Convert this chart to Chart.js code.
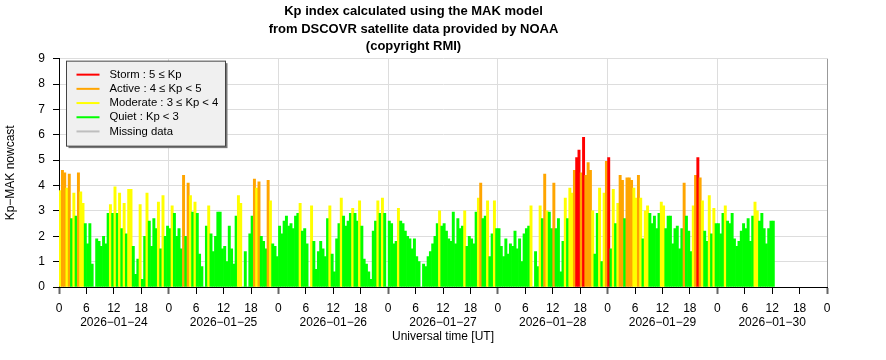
<!DOCTYPE html>
<html>
<head>
<meta charset="utf-8">
<title>Kp index - MAK model</title>
<script src="https://cdn.jsdelivr.net/npm/chart.js@4/dist/chart.umd.min.js"></script>
<style>
  html, body { margin: 0; padding: 0; background: #fff; }
  #wrap { width: 886px; height: 360px; }
</style>
</head>
<body>
<div id="wrap"><canvas id="kp-chart"></canvas></div>
<script>
// dates under the noon tick of every day
const dayLabels = ['2026−01−24', '2026−01−25', '2026−01−26', '2026−01−27',
                   '2026−01−28', '2026−01−29', '2026−01−30'];

// Kp-MAK nowcast, one value every 30 minutes
const kpJan24 = [3.8, 4.6, 4.5, 3.9, 4.45, 2.7, 3.7, 2.8, 4.5, 3.75, 3.3, 2.5, 1.7, 2.5, 0.9, 0,
                 1.9, 1.8, 1.6, 2.0, 1.7, 2.9, 3.25, 2.9, 3.95, 2.9, 3.7, 2.3, 3.3, 2.1, 3.85, 3.85,
                 1.6, 0.5, 1.1, 3.25, 0.3, 2.0, 3.7, 2.6, 1.6, 2.7, 2.3, 3.35, 1.5, 3.6, 2.0, 2.4];
const kpJan25 = [2.3, 3.2, 2.9, 2.0, 2.3, 1.5, 4.4, 2.0, 4.1, 3.6, 2.95, 3.35, 2.9, 1.3, 0.8, 0,
                 2.4, 3.2, 2.1, 1.4, 2.0, 2.95, 2.95, 1.5, 1.6, 1.0, 2.4, 1.5, 0.9, 2.8, 3.6, 3.3,
                 0, 1.4, 0, 2.1, 2.8, 4.25, 3.9, 4.15, 2.0, 1.8, 1.5, 4.2, 3.4, 1.7, 1.6, 1.2];
const kpJan26 = [2.4, 2.1, 2.6, 2.8, 2.4, 2.5, 2.3, 2.8, 2.9, 3.3, 2.2, 2.3, 1.7, 0, 3.2, 1.8,
                 0.7, 1.4, 1.8, 1.5, 1.2, 2.7, 3.2, 1.3, 0.6, 1.9, 2.5, 3.5, 2.8, 2.4, 2.6, 2.9,
                 3.1, 2.9, 2.6, 3.4, 2.4, 1.1, 0.9, 0.6, 0.3, 2.2, 2.6, 3.4, 2.9, 3.5, 2.9, 0];
const kpJan27 = [2.6, 2.5, 1.7, 1.8, 3.1, 2.6, 2.5, 2.2, 2.0, 1.9, 1.5, 1.9, 1.2, 1.0, 0, 0.9,
                 0.8, 1.2, 1.4, 1.7, 2.0, 2.5, 3.0, 2.4, 2.5, 2.2, 1.9, 1.8, 2.95, 1.7, 2.7, 2.3,
                 2.4, 3.0, 1.6, 2.0, 1.9, 1.7, 2.95, 3.5, 4.1, 2.7, 2.8, 3.4, 1.2, 2.1, 3.4, 2.3];
const kpJan28 = [2.3, 1.6, 1.2, 1.9, 1.3, 1.7, 1.6, 2.2, 1.5, 1.9, 1.0, 2.1, 2.3, 2.4, 3.2, 0,
                 1.4, 0.8, 3.2, 2.7, 4.45, 3.0, 2.95, 2.3, 4.1, 2.3, 2.7, 0.6, 1.8, 3.5, 2.7, 3.9,
                 3.7, 4.6, 5.1, 5.4, 4.5, 5.9, 4.4, 4.9, 4.6, 3.0, 1.3, 2.9, 3.9, 1.0, 3.7, 4.95];
const kpJan29 = [5.1, 1.5, 3.85, 2.5, 3.3, 4.4, 4.2, 2.7, 4.3, 4.3, 4.2, 3.9, 3.5, 4.4, 3.5, 1.9,
                 3.0, 3.2, 2.9, 2.5, 2.8, 2.3, 2.9, 3.35, 3.2, 2.3, 2.8, 2.8, 1.7, 2.3, 2.4, 1.5,
                 2.3, 4.1, 2.8, 2.2, 1.4, 3.2, 4.4, 5.1, 4.3, 3.4, 2.2, 1.8, 3.6, 2.1, 3.1, 2.5];
const kpJan30 = [2.5, 2.1, 2.9, 3.2, 2.6, 2.5, 2.9, 1.9, 1.6, 1.8, 2.2, 2.5, 2.3, 2.7, 1.8, 2.8,
                 3.35, 3.0, 2.6, 2.9, 2.3, 1.7, 2.3, 2.6, 2.6];

const stepHours = 0.5;
const yTicks = [0, 1, 2, 3, 4, 5, 6, 7, 8, 9];

const stormColor = '#ff0000';
const activeColor = '#ffa500';
const moderateColor = '#ffff00';
const quietColor = '#00ff00';
const missingColor = '#bebebe';

const kpValues = [].concat(kpJan24, kpJan25, kpJan26, kpJan27, kpJan28, kpJan29, kpJan30);
// x = hours since 2026-01-24 00:00 UT, bar centred in its half-hour slot
const kpPoints = kpValues.map((v, i) => ({ x: i * stepHours + stepHours / 2, y: v }));

function kpColor(v) {
    if (v >= 5) return stormColor;
    if (v >= 4) return activeColor;
    if (v >= 3) return moderateColor;
    return quietColor;
}

const legendItems = [
    ['Storm : 5 ≤ Kp', stormColor],
    ['Active : 4 ≤ Kp < 5', activeColor],
    ['Moderate : 3 ≤ Kp < 4', moderateColor],
    ['Quiet : Kp < 3', quietColor],
    ['Missing data', missingColor],
];

// legend box drawn inside the plot, top left
const legendBox = {
    id: 'legendBox',
    afterDraw(chart) {
        const c = chart.ctx;
        const left = chart.chartArea.left + 7.5;
        const top = chart.chartArea.top + 2.5;
        c.save();
        c.fillStyle = '#777';
        c.fillRect(left + 2, top + 2, 159, 85);
        c.fillStyle = '#f0f0f0';
        c.fillRect(left, top, 159, 85);
        c.strokeStyle = '#444';
        c.lineWidth = 1;
        c.strokeRect(left, top, 159, 85);
        c.font = '11.3px "Liberation Sans", Arial, sans-serif';
        c.textBaseline = 'middle';
        c.fillStyle = '#000';
        legendItems.forEach((item, i) => {
            const y = top + 13.5 + i * 14.2;
            c.strokeStyle = item[1];
            c.lineWidth = 2;
            c.beginPath();
            c.moveTo(left + 10, y);
            c.lineTo(left + 33, y);
            c.stroke();
            c.fillText(item[0], left + 43, y);
        });
        c.restore();
    }
};

Chart.defaults.font.family = '"Liberation Sans", Arial, sans-serif';
Chart.defaults.color = '#000';

const ctx = document.getElementById('kp-chart').getContext('2d');
new Chart(ctx, {
    type: 'bar',
    data: {
        datasets: [{
            label: 'Kp-MAK',
            data: kpPoints,
            backgroundColor: (c) => kpColor(c.raw ? c.raw.y : 0),
            borderWidth: 0,
            barPercentage: 1,
            categoryPercentage: 1,
        }],
    },
    options: {
        responsive: true,
        maintainAspectRatio: false,
        animation: false,
        devicePixelRatio: 1,
        layout: { padding: { left: 0, right: 59, top: 0, bottom: 0 } },
        plugins: {
            legend: { display: false },
            tooltip: { enabled: false },
            title: {
                display: true,
                text: ['Kp index calculated using the MAK model',
                       'from DSCOVR satellite data provided by NOAA',
                       '(copyright RMI)'],
                font: { size: 13, weight: 'bold', lineHeight: 1.35 },
                color: '#000',
                padding: { top: 3, bottom: 3 },
            },
        },
        scales: {
            x: {
                type: 'linear',
                min: 0,
                max: 168,
                offset: false,
                ticks: {
                    stepSize: 6,
                    autoSkip: false,
                    maxRotation: 0,
                    padding: 7,
                    font: { size: 12, lineHeight: 1.2 },
                    callback: (value) => {
                        const h = value % 24;
                        if (h === 12) return [String(h), dayLabels[Math.floor(value / 24)]];
                        return String(h);
                    },
                },
                grid: {
                    offset: false,
                    lineWidth: 1,
                    color: (c) => {
                        const v = c.tick ? c.tick.value : 0;
                        if (v === 168) return '#999999';
                        if (v % 24 === 0) return '#dddddd';
                        return 'rgba(0,0,0,0)';
                    },
                    tickColor: (c) => (c.tick && c.tick.value % 24 === 0 ? '#666' : '#000'),
                    tickWidth: (c) => (c.tick && c.tick.value % 24 === 0 ? 2 : 1),
                    tickLength: 7,
                },
                border: { display: true, color: '#000', width: 1 },
                title: {
                    display: true,
                    text: 'Universal time [UT]',
                    font: { size: 12 },
                    padding: { top: 0, bottom: 16 },
                },
                afterFit: (scale) => { scale.height = 73; },
            },
            y: {
                min: yTicks[0],
                max: yTicks[yTicks.length - 1],
                afterBuildTicks: (scale) => { scale.ticks = yTicks.map(v => ({ value: v })); },
                ticks: { padding: 8, font: { size: 12 } },
                grid: { color: '#dddddd', tickColor: '#000', tickLength: 6 },
                border: { display: true, color: '#000', width: 1 },
                title: {
                    display: true,
                    text: 'Kp−MAK nowcast',
                    font: { size: 12 },
                    padding: { top: 3 },
                },
                afterFit: (scale) => { scale.width = 59; },
            },
        },
    },
    plugins: [legendBox],
});
</script>
</body>
</html>
